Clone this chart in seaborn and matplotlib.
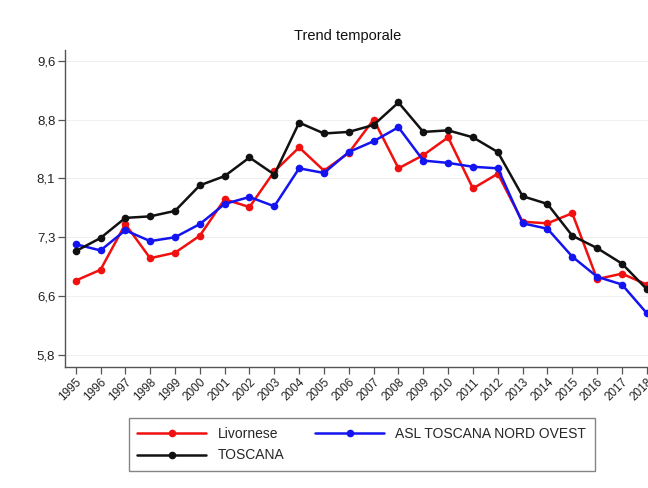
import numpy as np
import pandas as pd
import matplotlib
matplotlib.use("Agg")
import matplotlib.pyplot as plt
import seaborn as sns

sns.set_style("white")
plt.rcParams['font.family'] = ['Liberation Sans', 'DejaVu Sans']

anni = list(range(1995, 2019))

livornese = [6.76, 6.90, 7.49, 7.05, 7.12, 7.34, 7.81, 7.71, 8.17, 8.48,
             8.18, 8.41, 8.84, 8.21, 8.38, 8.61, 7.95, 8.14, 7.52, 7.50,
             7.63, 6.78, 6.85, 6.71]
asl_nord_ovest = [7.23, 7.15, 7.41, 7.27, 7.32, 7.49, 7.75, 7.84, 7.72, 8.21,
                  8.15, 8.42, 8.56, 8.74, 8.31, 8.28, 8.23, 8.21, 7.50, 7.43,
                  7.07, 6.81, 6.71, 6.34]
toscana = [7.14, 7.31, 7.57, 7.59, 7.66, 7.99, 8.11, 8.35, 8.13, 8.80,
           8.66, 8.68, 8.77, 9.06, 8.68, 8.70, 8.61, 8.42, 7.85, 7.75,
           7.34, 7.18, 6.98, 6.65]

serie = ['Livornese', 'ASL TOSCANA NORD OVEST', 'TOSCANA']
colori = {'Livornese': '#f01010', 'ASL TOSCANA NORD OVEST': '#1414f0', 'TOSCANA': '#111111'}

df = pd.DataFrame({
    'anno': anni * 3,
    'valore': livornese + asl_nord_ovest + toscana,
    'serie': ['Livornese'] * 24 + ['ASL TOSCANA NORD OVEST'] * 24 + ['TOSCANA'] * 24,
})

yticks = np.linspace(5.8, 9.6, 6)

fig = plt.figure(figsize=(6.48, 4.88), dpi=100)
ax = fig.add_axes([0.1003, 0.2486, 0.8997, 0.649])

sns.lineplot(data=df, x='anno', y='valore', hue='serie', hue_order=serie,
             palette=colori, marker='o', markersize=5.5, markeredgewidth=0,
             linewidth=1.8, ax=ax, legend=True)

ax.set_xlim(1994.57, 2018.05)
ax.set_ylim(5.649, 9.738)
ax.set_xticks(anni)
ax.set_xticklabels([str(a) for a in anni], rotation=45, ha='right',
                   rotation_mode='anchor', fontsize=8.5, color='#222222')
ax.set_yticks(yticks)
ax.set_yticklabels([('%.1f' % v).replace('.', ',') for v in yticks],
                   fontsize=9.5, color='#222222')
ax.tick_params(axis='both', direction='out', length=5, width=0.9, color='#555555',
               left=True, bottom=True)
ax.tick_params(axis='y', pad=2)
ax.tick_params(axis='x', pad=2)

ax.grid(axis='y', color='#ececec', linewidth=0.6)
ax.grid(axis='x', visible=False)
for s in ['top', 'right']:
    ax.spines[s].set_visible(False)
for s in ['left', 'bottom']:
    ax.spines[s].set_color('#555555')
    ax.spines[s].set_linewidth(1.0)

ax.set_xlabel('')
ax.set_ylabel('')
ax.set_title('Trend temporale', fontsize=10.5, x=0.484, pad=7, color='#111111')

handles, labels = ax.get_legend_handles_labels()
ax.get_legend().remove()
ordine = [labels.index('Livornese'), labels.index('TOSCANA'), labels.index('ASL TOSCANA NORD OVEST')]
leg = fig.legend([handles[i] for i in ordine], [labels[i] for i in ordine],
                 loc='center', bbox_to_anchor=(0.558, 0.089), ncol=2,
                 fontsize=10, handlelength=5, handletextpad=0.8, columnspacing=2.2,
                 frameon=True, fancybox=False, borderpad=0.6, labelspacing=0.55)
leg.get_frame().set_edgecolor('#666666')
leg.get_frame().set_linewidth(1.0)

fig.savefig('out.png', dpi=100)
